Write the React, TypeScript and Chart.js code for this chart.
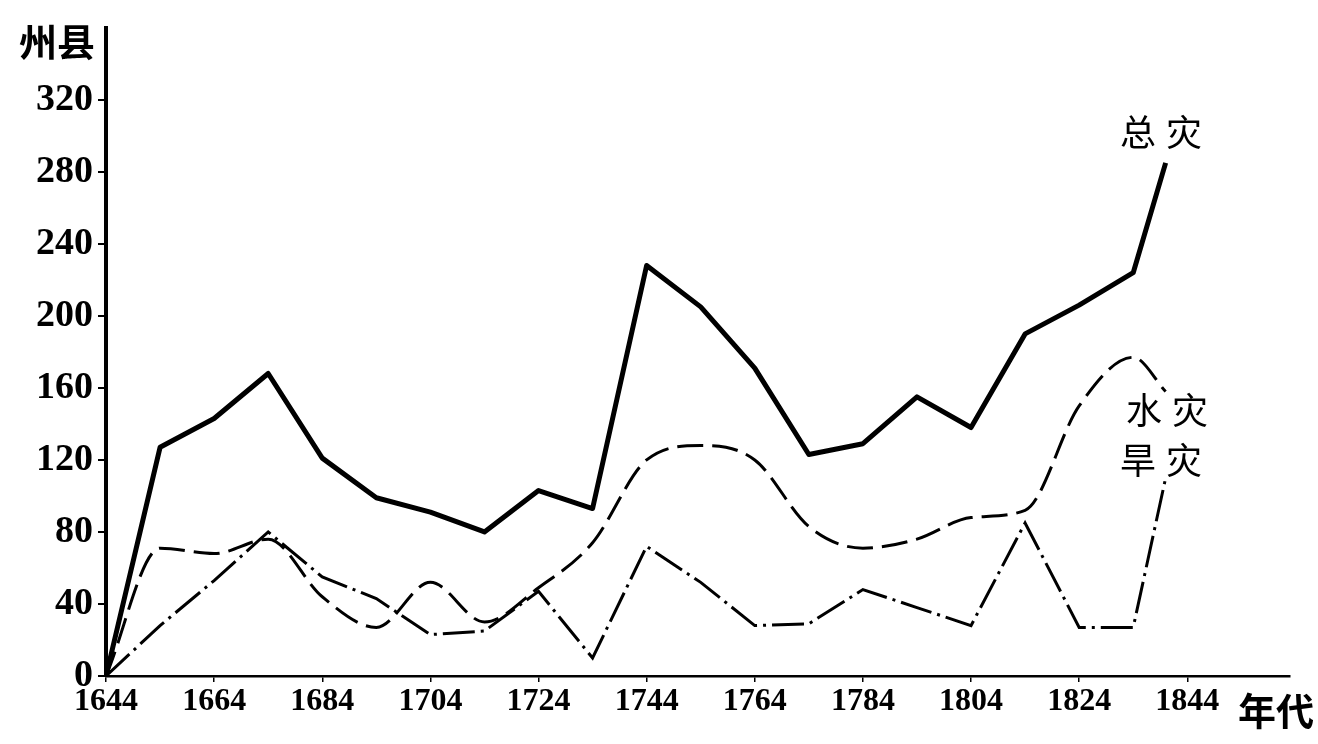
import React, { useEffect, useRef } from "react";
import { Chart, registerables } from "chart.js";

Chart.register(...registerables);

const years = [1644, 1654, 1664, 1674, 1684, 1694, 1704, 1714, 1724, 1734, 1744, 1754, 1764, 1774, 1784, 1794, 1804, 1814, 1824, 1834, 1840];
const totalDisaster = [0, 127, 143, 168, 121, 99, 91, 80, 103, 93, 228, 205, 171, 123, 129, 155, 138, 190, 206, 224, 285];
const floodDisaster = [0, 71, 68, 76, 44, 27, 52, 30, 49, 74, 120, 128, 120, 83, 71, 76, 88, 92, 150, 177, 158];
const droughtDisaster = [0, 28, 53, 80, 55, 43, 23, 25, 47, 10, 72, 52, 28, 29, 48, 38, 28, 85, 27, 27, 110];
const xTicks = [1644, 1664, 1684, 1704, 1724, 1744, 1764, 1784, 1804, 1824, 1844];
const yTicks = [0, 40, 80, 120, 160, 200, 240, 280, 320];

const toPoints = (vals: number[]) => vals.map((v, i) => ({ x: years[i], y: v }));

const textPlugin = {
  id: "textLabels",
  afterDraw(chart: any) {
    const ctx = chart.ctx;
    ctx.save();
    ctx.fillStyle = "#000";
    ctx.textBaseline = "middle";
    ctx.textAlign = "center";
    ctx.font = 'bold 38px "Noto Sans CJK SC"';
    ctx.fillText("州县", 57, 42);
    ctx.fillText("年代", 1276, 711);
    (ctx as any).letterSpacing = "10px";
    ctx.font = '36px "Noto Sans CJK SC"';
    ctx.fillText("总灾", 1166, 132);
    ctx.fillText("水灾", 1172, 410);
    ctx.fillText("旱灾", 1166, 460);
    ctx.restore();
  },
};

export default function App() {
  const ref = useRef<HTMLCanvasElement | null>(null);
  useEffect(() => {
    if (!ref.current) return;
    const chart = new Chart(ref.current, {
      type: "line",
      data: {
        datasets: [
          {
            label: "总灾",
            data: toPoints(totalDisaster),
            borderColor: "#000",
            borderWidth: 5,
            pointRadius: 0,
            tension: 0,
            borderJoinStyle: "round",
          },
          {
            label: "水灾",
            data: toPoints(floodDisaster),
            borderColor: "#000",
            borderWidth: 3,
            borderDash: [26, 9],
            pointRadius: 0,
            cubicInterpolationMode: "monotone",
          },
          {
            label: "旱灾",
            data: toPoints(droughtDisaster),
            borderColor: "#000",
            borderWidth: 3,
            borderDash: [32, 6, 3, 6],
            pointRadius: 0,
            tension: 0,
          },
        ],
      },
      options: {
        animation: false,
        responsive: false,
        devicePixelRatio: 1,
        layout: { padding: { top: 27, right: 28, left: 0, bottom: 0 } },
        plugins: { legend: { display: false }, tooltip: { enabled: false } },
        scales: {
          x: {
            type: "linear",
            min: 1644,
            max: 1863,
            afterBuildTicks: (scale: any) => {
              scale.ticks = xTicks.map((v) => ({ value: v }));
            },
            afterFit: (scale: any) => {
              scale.height = 68;
            },
            grid: { drawOnChartArea: false, drawTicks: true, tickLength: 6, color: "#000", lineWidth: 1.5 },
            border: { display: true, color: "#000", width: 2.5 },
            ticks: {
              color: "#000",
              padding: 1,
              maxRotation: 0,
              autoSkip: false,
              font: { family: "Liberation Serif", size: 32, weight: "bold" },
              callback: (v: any) => String(v),
            },
          },
          y: {
            type: "linear",
            min: 0,
            max: 360,
            afterBuildTicks: (scale: any) => {
              scale.ticks = yTicks.map((v) => ({ value: v }));
            },
            afterFit: (scale: any) => {
              scale.width = 106;
            },
            grid: { drawOnChartArea: false, drawTicks: true, tickLength: 8, color: "#000", lineWidth: 2 },
            border: { display: true, color: "#000", width: 4 },
            ticks: {
              color: "#000",
              padding: 5,
              autoSkip: false,
              font: { family: "Liberation Serif", size: 38, weight: "bold" },
              callback: (v: any) => String(v),
            },
          },
        },
      } as any,
      plugins: [textPlugin],
    });
    return () => chart.destroy();
  }, []);
  return (
    <div style={{ position: "fixed", left: 0, top: 0, width: 1318, height: 744, background: "#fff" }}>
      <canvas ref={ref} width={1318} height={744} style={{ width: 1318, height: 744, display: "block" }} />
    </div>
  );
}
